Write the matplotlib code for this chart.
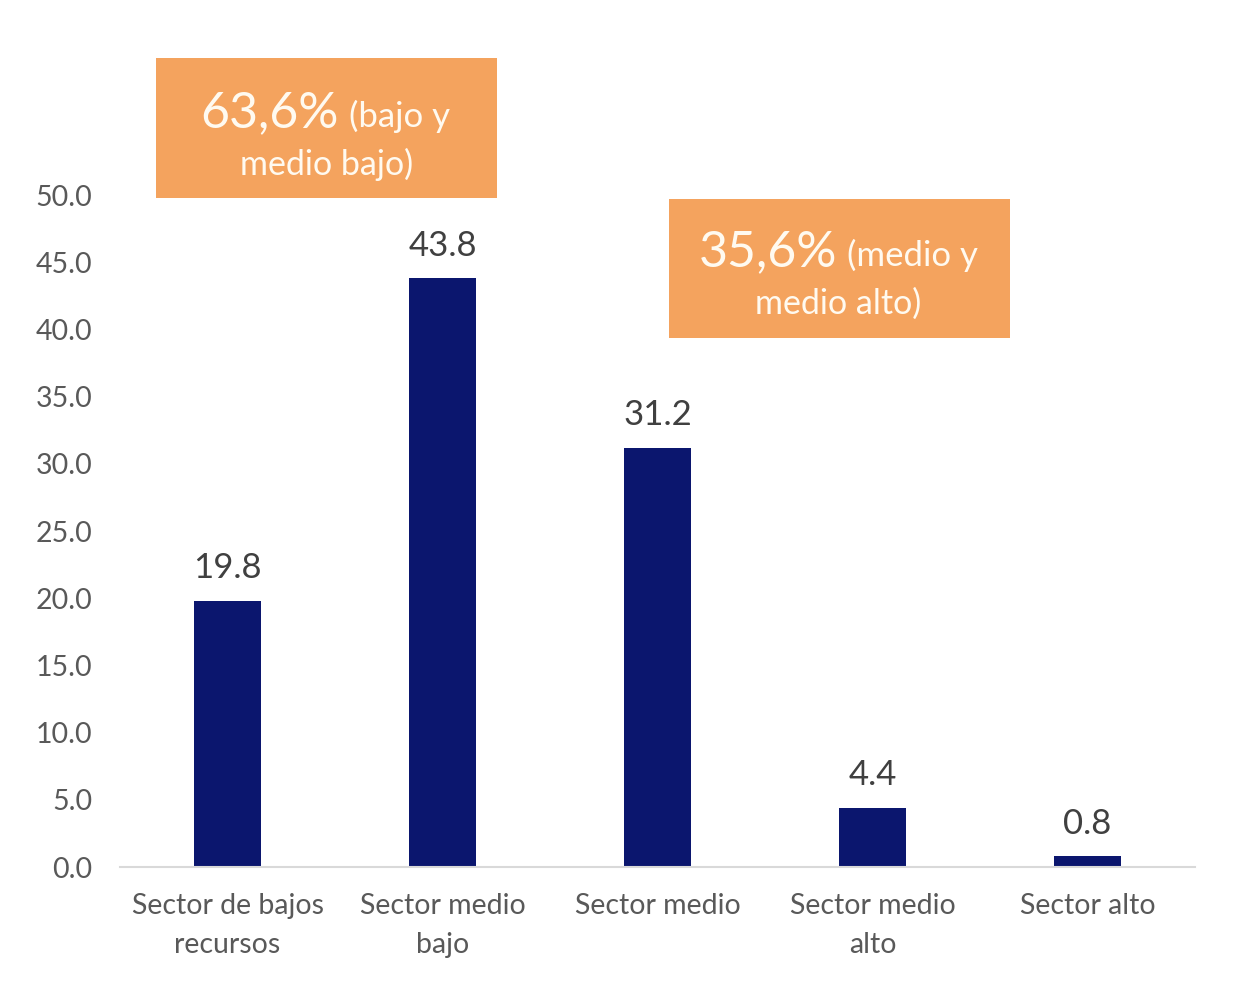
import matplotlib
matplotlib.use("Agg")
import matplotlib.pyplot as plt
from matplotlib.patches import Rectangle

plt.rcParams['font.family'] = ['Lato', 'DejaVu Sans']

categories = ["Sector de bajos\nrecursos", "Sector medio\nbajo", "Sector medio",
              "Sector medio\nalto", "Sector alto"]
values = [19.8, 43.8, 31.2, 4.4, 0.8]
value_labels = ["19.8", "43.8", "31.2", "4.4", "0.8"]
yticks = [0, 5, 10, 15, 20, 25, 30, 35, 40, 45, 50]
ytick_labels = ["0.0", "5.0", "10.0", "15.0", "20.0", "25.0", "30.0", "35.0", "40.0", "45.0", "50.0"]
box_big = ["63,6%", "35,6%"]
box_small = ["(bajo y", "(medio y"]
box_line2 = ["medio bajo)", "medio alto)"]

W, H = 1250, 1001
fig = plt.figure(figsize=(W / 100, H / 100), dpi=100)
ax = fig.add_axes([120 / W, 1 - 867 / H, (1195 - 120) / W, (867 - 195) / H])

bar_color = "#0b166e"
orange = "#f4a35e"
x = list(range(len(categories)))
ax.bar(x, values, width=0.31, color=bar_color)
for xi, v, lab in zip(x, values, value_labels):
    ax.annotate(lab, (xi, v), xytext=(0, 12), textcoords="offset points",
                ha="center", va="bottom", fontsize=25, color="#404040")

ax.set_xlim(-0.5, len(categories) - 0.5)
ax.set_ylim(0, 50)
ax.set_yticks(yticks)
ax.set_yticklabels(ytick_labels)
ax.set_xticks(x)
ax.set_xticklabels(categories, linespacing=1.58)
ax.tick_params(axis="y", length=0, labelsize=20.5, labelcolor="#595959", pad=20)
ax.tick_params(axis="x", length=0, labelsize=20.5, labelcolor="#595959", pad=19)
for s in ["left", "right", "top"]:
    ax.spines[s].set_visible(False)
ax.spines["bottom"].set_color("#d9d9d9")
ax.spines["bottom"].set_linewidth(1.5)

# annotation boxes (pixel layout)
boxes = [(156, 58, 497, 198), (669, 199, 1010, 338)]
splits = [344, 842]
line1_base = [127, 266]
line2_center = [327, 838]
line2_base = [175, 314]
for i, (x0, y0, x1, y1) in enumerate(boxes):
    fig.patches.append(Rectangle((x0 / W, 1 - y1 / H), (x1 - x0) / W, (y1 - y0) / H,
                                 transform=fig.transFigure, facecolor=orange,
                                 edgecolor="none", zorder=0))
    fig.text((splits[i] - 5) / W, 1 - line1_base[i] / H, box_big[i], ha="right",
             va="baseline", fontsize=36, color="#fffaf0")
    fig.text((splits[i] + 5) / W, 1 - line1_base[i] / H, box_small[i], ha="left",
             va="baseline", fontsize=25, color="#fffaf0")
    fig.text(line2_center[i] / W, 1 - line2_base[i] / H, box_line2[i], ha="center",
             va="baseline", fontsize=24.5, color="#fffaf0")

fig.savefig("out.png", dpi=100, facecolor="white")
